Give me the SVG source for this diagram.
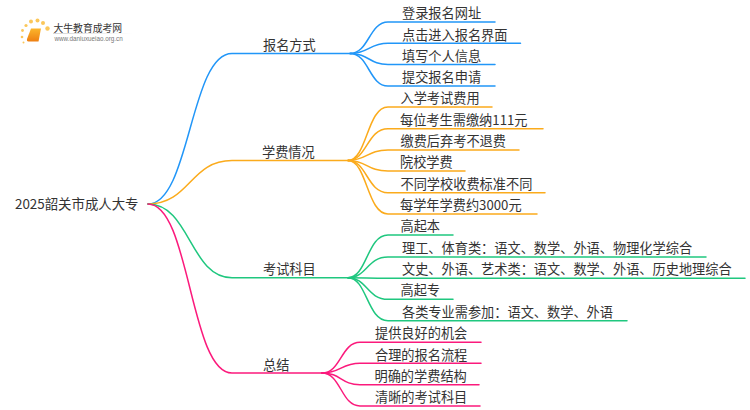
<svg xmlns="http://www.w3.org/2000/svg" width="750" height="410" viewBox="0 0 750 410">
<defs>
<linearGradient id="fade"><stop offset="0" stop-color="#ccc"/><stop offset="1" stop-color="#ccc" stop-opacity="0"/></linearGradient>
<linearGradient id="book" x1="0" y1="0" x2="0" y2="1"><stop offset="0" stop-color="#fbb62c"/><stop offset="1" stop-color="#ee7f12"/></linearGradient>
</defs>
<style>
text{font-family:"Noto Sans CJK SC","Liberation Sans",sans-serif;font-size:13.2px;fill:#333}
.c{fill:none;stroke-width:1.5;stroke-linecap:round}
.b{stroke:#2196f8}.o{stroke:#fbab1c}.g{stroke:#1fc77f}.p{stroke:#fb1a7c}
</style>
<rect width="750" height="410" fill="#fff"/>
<g id="connectors">
<path class="c b" d="M148 204C190 204 190 53.500 232 53.500H352"/>
<path class="c b" d="M350 53.500C369 53.500 369 22 388 22H495"/>
<path class="c b" d="M350 53.500C369 53.500 369 43.300 388 43.300H520.500"/>
<path class="c b" d="M350 53.500C369 53.500 369 64.500 388 64.500H495"/>
<path class="c b" d="M350 53.500C369 53.500 369 86 388 86H495"/>
<path class="c o" d="M148 204C190 204 190 160.500 232 160.500H350"/>
<path class="c o" d="M348 160.500C367 160.500 367 107 388 107H492"/>
<path class="c o" d="M348 160.500C367 160.500 367 128.700 388 128.700H543"/>
<path class="c o" d="M348 160.500C367 160.500 367 150 388 150H519"/>
<path class="c o" d="M348 160.500C367 160.500 367 171 388 171H465"/>
<path class="c o" d="M348 160.500C367 160.500 367 192.700 388 192.700H545"/>
<path class="c o" d="M348 160.500C367 160.500 367 214 388 214H537"/>
<path class="c g" d="M148 204C190 204 190 277.700 232 277.700H350"/>
<path class="c g" d="M348 277.700C367 277.700 367 235 388 235H453"/>
<path class="c g" d="M348 277.700C367 277.700 367 257 388 257H706"/>
<path class="c g" d="M348 277.700C367 277.700 367 278.300 388 278.300H745"/>
<path class="c g" d="M348 277.700C367 277.700 367 299.300 388 299.300H453"/>
<path class="c g" d="M348 277.700C367 277.700 367 320.700 388 320.700H627"/>
<path class="c p" d="M148 204C190 204 190 373 232 373H324"/>
<path class="c p" d="M322 373C341 373 341 342.300 360 342.300H481"/>
<path class="c p" d="M322 373C341 373 341 363.300 360 363.300H481"/>
<path class="c p" d="M322 373C341 373 341 384.700 360 384.700H479"/>
<path class="c p" d="M322 373C341 373 341 406 360 406H480"/>
</g>
<g id="logo">
<g fill="#fbc75a"><circle cx="31" cy="21.500" r="2"/><circle cx="37.500" cy="20.500" r="2"/><circle cx="43" cy="23" r="2"/><circle cx="47.500" cy="28.500" r="2.200"/><circle cx="26" cy="25.500" r="1.600"/><circle cx="22.500" cy="30.500" r="1.400"/><circle cx="22" cy="37" r="1.300"/><circle cx="23.500" cy="42.500" r="1"/></g>
<path d="M31 28.500H41L38.500 41.500H28.500Q26.500 41.500 27 39Z" fill="url(#book)"/>
<rect x="53" y="33" width="80" height="0.800" fill="url(#fade)"/>
<text x="53.500" y="31.500" style="font-size:9.800px">大牛教育成考网</text>
<text x="54.500" y="41" style="font-size:6.300px;fill:#777;font-family:'Liberation Sans',sans-serif">www.daniuxueiao.org.cn</text>
</g>
<g id="root"><text x="15" y="209" style="font-size:13.400px">2025韶关市成人大专</text></g>
<g id="n1"><text x="263" y="50">报名方式</text></g>
<g id="n1a"><text x="402" y="18">登录报名网址</text></g>
<g id="n1b"><text x="402" y="39.500">点击进入报名界面</text></g>
<g id="n1c"><text x="402" y="60.500">填写个人信息</text></g>
<g id="n1d"><text x="402" y="82">提交报名申请</text></g>
<g id="n2"><text x="262" y="157">学费情况</text></g>
<g id="n2a"><text x="400.500" y="103">入学考试费用</text></g>
<g id="n2b"><text x="400" y="124.500">每位考生需缴纳111元</text></g>
<g id="n2c"><text x="400.500" y="146">缴费后弃考不退费</text></g>
<g id="n2d"><text x="400" y="167">院校学费</text></g>
<g id="n2e"><text x="400.500" y="188.500">不同学校收费标准不同</text></g>
<g id="n2f"><text x="400" y="210">每学年学费约3000元</text></g>
<g id="n3"><text x="263" y="274">考试科目</text></g>
<g id="n3a"><text x="400.500" y="231">高起本</text></g>
<g id="n3b"><text x="402" y="253">理工、体育类：语文、数学、外语、物理化学综合</text></g>
<g id="n3c"><text x="402" y="274">文史、外语、艺术类：语文、数学、外语、历史地理综合</text></g>
<g id="n3d"><text x="400.500" y="295">高起专</text></g>
<g id="n3e"><text x="402" y="317">各类专业需参加：语文、数学、外语</text></g>
<g id="n4"><text x="263" y="370">总结</text></g>
<g id="n4a"><text x="375" y="338">提供良好的机会</text></g>
<g id="n4b"><text x="375" y="359.500">合理的报名流程</text></g>
<g id="n4c"><text x="374.500" y="381">明确的学费结构</text></g>
<g id="n4d"><text x="375" y="402">清晰的考试科目</text></g>
</svg>
